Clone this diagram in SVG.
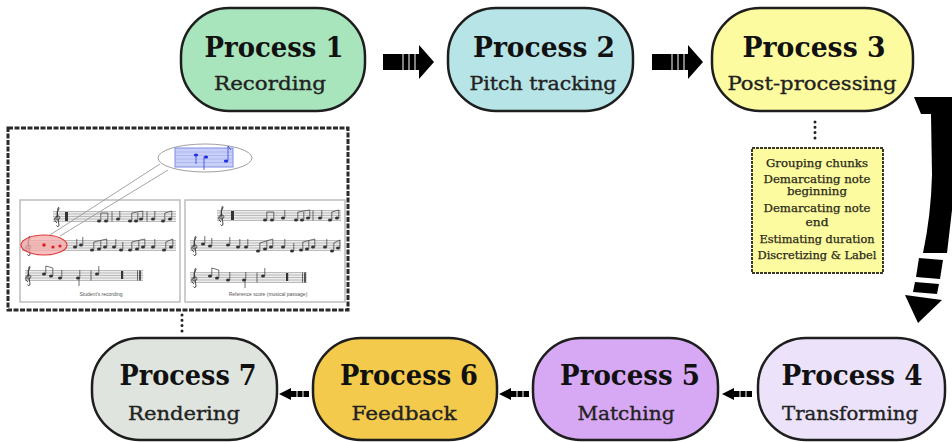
<svg xmlns="http://www.w3.org/2000/svg" width="952" height="442" viewBox="0 0 952 442">
<defs>
<style>
.box{stroke:#1e1e1e;stroke-width:2.5}
.t{font-family:"DejaVu Serif","Liberation Serif",serif;font-weight:bold;font-size:27px;fill:#111;text-anchor:middle}
.s{font-family:"DejaVu Serif","Liberation Serif",serif;font-size:19px;fill:#222;stroke:#222;stroke-width:0.35;text-anchor:middle}
.pp{font-family:"DejaVu Serif","Liberation Serif",serif;font-size:10.5px;fill:#2a2a1a;stroke:#2a2a1a;stroke-width:0.25;text-anchor:middle}
.dots{stroke:#222;stroke-width:3;stroke-linecap:round;stroke-dasharray:0 5.3;fill:none}
.stripe{stroke:#fff;stroke-width:1}
.staff{stroke:#9a9a9a;stroke-width:0.6}
.cap{font-family:"Liberation Sans",Arial,sans-serif;font-size:5px;fill:#555;text-anchor:middle}
.st{stroke:#333;stroke-width:0.7}
</style>
<symbol id="note" overflow="visible"><ellipse cx="0" cy="0" rx="2" ry="1.5" fill="#333"/><line x1="1.8" y1="0" x2="1.8" y2="-8" stroke="#333" stroke-width="0.7"/></symbol>
<symbol id="clef" overflow="visible"><path d="M0,6 C-3,4 -3,0 0,-1 C3,-2 4,2 1,3 C-1,3.5 -2,1 0,0 L1,-9 C2,-11 3,-8 0,-5 L2,8 C2,10 0,10 -0.5,8.5" fill="none" stroke="#333" stroke-width="0.9"/></symbol>
</defs>
<rect width="952" height="442" fill="#fff"/>

<g id="connectors">
  <g id="arrow-1-2">
    <rect x="383" y="54" width="37" height="16" fill="#000"/>
    <line class="stripe" x1="403" y1="54" x2="403" y2="70"/>
    <line class="stripe" x1="409" y1="54" x2="409" y2="70"/>
    <line class="stripe" x1="415" y1="54" x2="415" y2="70"/>
    <polygon points="419,45 434,62 419,79" fill="#000"/>
  </g>
  <g id="arrow-2-3">
    <rect x="652" y="54" width="37" height="16" fill="#000"/>
    <line class="stripe" x1="672" y1="54" x2="672" y2="70"/>
    <line class="stripe" x1="678" y1="54" x2="678" y2="70"/>
    <line class="stripe" x1="684" y1="54" x2="684" y2="70"/>
    <polygon points="688,45 703,62 688,79" fill="#000"/>
  </g>
  <g id="arrow-3-4">
    <path d="M914,97 L952,97 L952,210 L947,253 L923,253 Q931,215 932,175 L931,114 L921,114 Z" fill="#000"/>
    <polygon points="919,258 943,260 940,279 916,277" fill="#000"/>
    <polygon points="915,282 939,284 937,294 913,292" fill="#000"/>
    <polygon points="905,295 942,300 918,323" fill="#000"/>
  </g>
  <g id="arrow-4-5">
    <polygon points="722,394 734,388 734,400" fill="#000"/>
    <rect x="733" y="391" width="19" height="6" fill="#000"/>
    <line class="stripe" x1="740" y1="391" x2="740" y2="397"/>
    <line class="stripe" x1="746" y1="391" x2="746" y2="397"/>
  </g>
  <g id="arrow-5-6">
    <polygon points="499,394 511,388 511,400" fill="#000"/>
    <rect x="510" y="391" width="19" height="6" fill="#000"/>
    <line class="stripe" x1="517" y1="391" x2="517" y2="397"/>
    <line class="stripe" x1="523" y1="391" x2="523" y2="397"/>
  </g>
  <g id="arrow-6-7">
    <polygon points="279,394 291,388 291,400" fill="#000"/>
    <rect x="290" y="391" width="19" height="6" fill="#000"/>
    <line class="stripe" x1="297" y1="391" x2="297" y2="397"/>
    <line class="stripe" x1="303" y1="391" x2="303" y2="397"/>
  </g>
  <line id="dots-3" class="dots" x1="815" y1="122" x2="815" y2="139"/>
  <line id="dots-7" class="dots" x1="182" y1="315" x2="182" y2="334"/>
</g>

<g id="p1">
  <rect class="box" x="181" y="8" width="184" height="103" rx="48" fill="#a8e4bc"/>
  <text class="t" x="274" y="57" textLength="139" lengthAdjust="spacingAndGlyphs">Process 1</text>
  <text class="s" x="270" y="90" textLength="112" lengthAdjust="spacingAndGlyphs">Recording</text>
</g>
<g id="p2">
  <rect class="box" x="448" y="8" width="185" height="103" rx="48" fill="#b7e4e6"/>
  <text class="t" x="544" y="57" textLength="142" lengthAdjust="spacingAndGlyphs">Process 2</text>
  <text class="s" x="543" y="90" textLength="147" lengthAdjust="spacingAndGlyphs">Pitch tracking</text>
</g>
<g id="p3">
  <rect class="box" x="712" y="8" width="201" height="103" rx="48" fill="#fdfb9f"/>
  <text class="t" x="814" y="57" textLength="143" lengthAdjust="spacingAndGlyphs">Process 3</text>
  <text class="s" x="812" y="90" textLength="169" lengthAdjust="spacingAndGlyphs">Post-processing</text>
</g>

<g id="postproc-steps">
  <rect x="752" y="148" width="131" height="125" fill="#fdfb9f" stroke="#3a3a2a" stroke-width="2" stroke-dasharray="3 1"/>
  <text class="pp" x="817" y="167" textLength="102" lengthAdjust="spacingAndGlyphs">Grouping chunks</text>
  <text class="pp" x="817" y="183" textLength="107" lengthAdjust="spacingAndGlyphs">Demarcating note</text>
  <text class="pp" x="817" y="195" textLength="60" lengthAdjust="spacingAndGlyphs">beginning</text>
  <text class="pp" x="817" y="212" textLength="107" lengthAdjust="spacingAndGlyphs">Demarcating note</text>
  <text class="pp" x="817" y="226" textLength="23" lengthAdjust="spacingAndGlyphs">end</text>
  <text class="pp" x="817" y="243" textLength="115" lengthAdjust="spacingAndGlyphs">Estimating duration</text>
  <text class="pp" x="817" y="259" textLength="119" lengthAdjust="spacingAndGlyphs">Discretizing &amp; Label</text>
</g>

<g id="score-panel">
  <rect x="8" y="128" width="340" height="182" fill="#fff" stroke="#2a2a2a" stroke-width="3" stroke-dasharray="5 1.5"/>
  <rect x="20" y="200" width="160" height="102" fill="#fff" stroke="#bdbdbd" stroke-width="1.5"/>
  <rect x="185" y="200" width="160" height="102" fill="#fff" stroke="#bdbdbd" stroke-width="1.5"/>
  <g fill="#ececec">
    <rect x="53" y="211" width="123" height="11"/>
    <rect x="22" y="240" width="154" height="11"/>
    <rect x="25" y="270" width="118" height="11"/>
    <rect x="217" y="210" width="124" height="11"/>
    <rect x="190" y="240" width="151" height="11"/>
    <rect x="190" y="272" width="117" height="11"/>
  </g>
  <g class="staff">
    <path d="M53,211.5H176M53,214H176M53,216.5H176M53,219H176M53,221.5H176"/>
    <path d="M22,240.5H176M22,243H176M22,245.5H176M22,248H176M22,250.5H176"/>
    <path d="M25,270.5H143M25,273H143M25,275.5H143M25,278H143M25,280.5H143"/>
    <path d="M217,210.5H341M217,213H341M217,215.5H341M217,218H341M217,220.5H341"/>
    <path d="M190,240.5H341M190,243H341M190,245.5H341M190,248H341M190,250.5H341"/>
    <path d="M190,272.5H307M190,275H307M190,277.5H307M190,280H307M190,282.5H307"/>
  </g>
  <use href="#clef" x="57" y="217"/>
  <use href="#clef" x="28" y="246"/>
  <use href="#clef" x="28" y="276"/>
  <use href="#clef" x="221" y="216"/>
  <use href="#clef" x="194" y="246"/>
  <use href="#clef" x="194" y="278"/>
  <rect x="65" y="212" width="3" height="9" fill="#333"/>
  <rect x="231" y="211" width="3" height="9" fill="#333"/>
  <use href="#note" x="99" y="221"/><use href="#note" x="106" y="221"/>
  <line class="st" x1="100.8" y1="213" x2="107.8" y2="213"/>
  <use href="#note" x="118" y="219"/>
  <line class="st" x1="112" y1="211.5" x2="112" y2="221.5"/>
  <use href="#note" x="130" y="221"/><use href="#note" x="136" y="221"/><use href="#note" x="141" y="219"/>
  <line class="st" x1="131.8" y1="213" x2="142.8" y2="211"/>
  <line class="st" x1="147" y1="211.5" x2="147" y2="221.5"/>
  <use href="#note" x="153" y="219"/>
  <use href="#note" x="163" y="221"/><use href="#note" x="170" y="219"/>
  <line class="st" x1="164.8" y1="213" x2="171.8" y2="211"/>
  <use href="#note" x="75" y="247"/><use href="#note" x="81" y="245"/>
  <use href="#note" x="92" y="250"/><use href="#note" x="99" y="249"/><use href="#note" x="105" y="247"/>
  <line class="st" x1="93.8" y1="242" x2="106.8" y2="239"/>
  <use href="#note" x="114" y="247"/><use href="#note" x="121" y="250"/>
  <use href="#note" x="130" y="250"/><use href="#note" x="137" y="249"/><use href="#note" x="143" y="247"/>
  <line class="st" x1="131.8" y1="242" x2="144.8" y2="239"/>
  <use href="#note" x="153" y="247"/>
  <use href="#note" x="164" y="250"/><use href="#note" x="171" y="247"/>
  <line class="st" x1="165.8" y1="242" x2="172.8" y2="239"/>
  <use href="#note" x="44" y="274"/><use href="#note" x="51" y="276"/>
  <line class="st" x1="45.8" y1="266" x2="52.8" y2="268"/>
  <use href="#note" x="60" y="278"/>
  <use href="#note" x="78" y="278"/>
  <line class="st" x1="79" y1="278" x2="79" y2="286"/>
  <line class="st" x1="91" y1="270.5" x2="91" y2="280.5"/>
  <use href="#note" x="97" y="274"/>
  <rect x="121" y="271" width="2.2" height="8" fill="#333"/>
  <line x1="140" y1="270.5" x2="140" y2="280.5" stroke="#333" stroke-width="1.6"/>
  <line class="st" x1="137.5" y1="270.5" x2="137.5" y2="280.5"/>
  <use href="#note" x="265" y="220"/><use href="#note" x="272" y="220"/>
  <line class="st" x1="266.8" y1="212" x2="273.8" y2="212"/>
  <use href="#note" x="283" y="218"/>
  <use href="#note" x="296" y="220"/><use href="#note" x="302" y="220"/><use href="#note" x="308" y="218"/>
  <line class="st" x1="297.8" y1="212" x2="309.8" y2="210"/>
  <line class="st" x1="313" y1="210.5" x2="313" y2="220.5"/>
  <use href="#note" x="320" y="218"/>
  <use href="#note" x="330" y="220"/><use href="#note" x="337" y="218"/>
  <line class="st" x1="331.8" y1="212" x2="338.8" y2="210"/>
  <use href="#note" x="203" y="244"/><use href="#note" x="210" y="246"/><use href="#note" x="228" y="245"/>
  <use href="#note" x="238" y="247"/><use href="#note" x="246" y="247"/>
  <use href="#note" x="258" y="251"/><use href="#note" x="265" y="249"/><use href="#note" x="271" y="247"/>
  <line class="st" x1="259.8" y1="243" x2="272.8" y2="239"/>
  <use href="#note" x="283" y="247"/><use href="#note" x="292" y="251"/>
  <use href="#note" x="301" y="250"/><use href="#note" x="307" y="249"/><use href="#note" x="313" y="247"/>
  <line class="st" x1="302.8" y1="242" x2="314.8" y2="239"/>
  <use href="#note" x="325" y="247"/>
  <use href="#note" x="332" y="251"/><use href="#note" x="338" y="248"/>
  <line class="st" x1="333.8" y1="243" x2="339.8" y2="240"/>
  <use href="#note" x="210" y="276"/><use href="#note" x="217" y="278"/>
  <line class="st" x1="211.8" y1="268" x2="218.8" y2="270"/>
  <use href="#note" x="228" y="280"/>
  <use href="#note" x="244" y="280"/>
  <line class="st" x1="245" y1="280" x2="245" y2="288"/>
  <line class="st" x1="257" y1="272.5" x2="257" y2="282.5"/>
  <use href="#note" x="263" y="276"/>
  <rect x="286" y="273" width="2.2" height="8" fill="#333"/>
  <line x1="305" y1="272.5" x2="305" y2="282.5" stroke="#333" stroke-width="1.6"/>
  <line class="st" x1="302.5" y1="272.5" x2="302.5" y2="282.5"/>
  <ellipse cx="44" cy="245" rx="23" ry="10" fill="#f6a9a9" fill-opacity="0.75" stroke="#e03a3a" stroke-width="1.2"/>
  <g fill="#e02020">
    <circle cx="44" cy="245" r="1.8"/><circle cx="53" cy="247" r="1.6"/><circle cx="60" cy="246" r="1.6"/>
  </g>
  <line x1="160" y1="164" x2="50" y2="235" stroke="#9a9a9a" stroke-width="0.9"/>
  <line x1="168" y1="170" x2="60" y2="236" stroke="#9a9a9a" stroke-width="0.9"/>
  <ellipse cx="205" cy="158" rx="47" ry="14" fill="#fff" stroke="#a0a0a0" stroke-width="1"/>
  <rect x="175" y="148" width="58" height="19" fill="#c9d0f7" stroke="#7d8be6" stroke-width="1"/>
  <path d="M175,152H233M175,155.5H233M175,159H233M175,162.5H233" stroke="#97a2ee" stroke-width="0.5"/>
  <g fill="#1f2fe0">
    <ellipse cx="196" cy="155" rx="2.2" ry="1.6"/>
    <ellipse cx="206" cy="157" rx="2.2" ry="1.6"/>
    <ellipse cx="226" cy="161" rx="2.2" ry="1.6"/>
  </g>
  <g stroke="#3040e0" stroke-width="0.8">
    <line x1="196" y1="155" x2="196" y2="164"/>
    <line x1="204" y1="157" x2="204" y2="170"/>
    <line x1="228" y1="161" x2="228" y2="146"/>
    <line x1="228" y1="146" x2="231" y2="150"/>
  </g>
  <text class="cap" x="101" y="296">Student's recording</text>
  <text class="cap" x="268" y="296">Reference score (musical passage)</text>
</g>

<g id="p4">
  <rect class="box" x="758" y="338" width="187" height="102" rx="48" fill="#ece3fb"/>
  <text class="t" x="852" y="385" textLength="141" lengthAdjust="spacingAndGlyphs">Process 4</text>
  <text class="s" x="850" y="420" textLength="136" lengthAdjust="spacingAndGlyphs">Transforming</text>
</g>
<g id="p5">
  <rect class="box" x="533" y="338" width="185" height="102" rx="48" fill="#d7a8f3"/>
  <text class="t" x="630" y="385" textLength="140" lengthAdjust="spacingAndGlyphs">Process 5</text>
  <text class="s" x="626" y="420" textLength="97" lengthAdjust="spacingAndGlyphs">Matching</text>
</g>
<g id="p6">
  <rect class="box" x="313" y="338" width="184" height="102" rx="48" fill="#f3ca4c"/>
  <text class="t" x="409" y="385" textLength="138" lengthAdjust="spacingAndGlyphs">Process 6</text>
  <text class="s" x="404" y="420" textLength="105" lengthAdjust="spacingAndGlyphs">Feedback</text>
</g>
<g id="p7">
  <rect class="box" x="92" y="338" width="185" height="102" rx="48" fill="#dfe5de"/>
  <text class="t" x="188" y="385" textLength="137" lengthAdjust="spacingAndGlyphs">Process 7</text>
  <text class="s" x="184" y="420" textLength="112" lengthAdjust="spacingAndGlyphs">Rendering</text>
</g>
</svg>
